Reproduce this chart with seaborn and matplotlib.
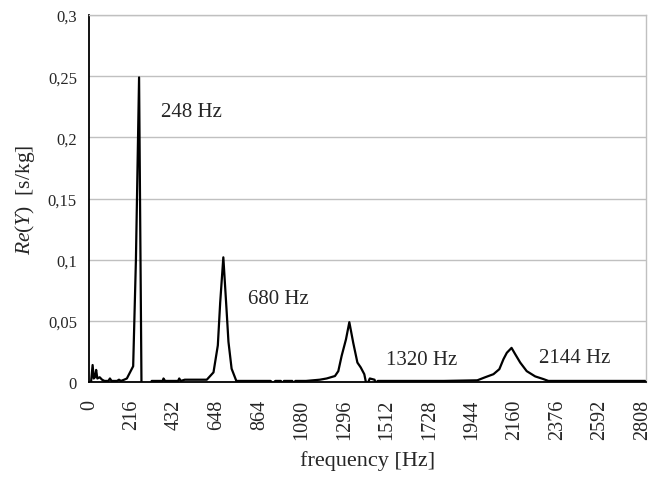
import numpy as np
import pandas as pd
import seaborn as sns
import matplotlib.pyplot as plt

# data (frequency in Hz, Re(Y) in s/kg)
freq = [0, 8, 16, 22, 28, 34, 40, 52, 64, 76, 96, 104, 112, 140, 150, 160, 176, 190, 206, 222, 236, 252,
        270, 290, 310, 316, 372, 376, 384, 450, 456, 464, 484, 596,
        630, 652, 664, 680, 696, 706, 722, 746,
        800, 920, 932, 944, 972, 980, 988, 1030, 1038, 1046, 1100, 1170,
        1205, 1247, 1264, 1281, 1303, 1320, 1340, 1361, 1378, 1396, 1408, 1424, 1448, 1454, 1464,
        1600, 1800, 1970, 2010, 2052, 2082, 2103, 2120, 2144, 2162, 2188, 2221, 2264, 2306, 2331,
        2500, 2700, 2824]
re_y = [0.0, 0.0, 0.014, 0.003, 0.004, 0.010, 0.003, 0.004, 0.002, 0.001, 0.001, 0.003, 0.001, 0.001, 0.002, 0.001, 0.002, 0.003, 0.008, 0.013, 0.100, 0.249,
        -0.12, -0.03, -0.005, 0.001, 0.001, 0.003, 0.001, 0.001, 0.003, 0.001, 0.002, 0.002,
        0.008, 0.030, 0.065, 0.102, 0.060, 0.033, 0.011, 0.001,
        0.001, 0.001, -0.001, 0.001, 0.001, -0.001, 0.001, 0.001, -0.001, 0.001, 0.001, 0.002,
        0.003, 0.005, 0.009, 0.0215, 0.035, 0.049, 0.032, 0.016, 0.012, 0.0065, -0.003, 0.003, 0.002, -0.001, 0.001,
        0.001, 0.001, 0.0015, 0.004, 0.0065, 0.0106, 0.0188, 0.024, 0.028, 0.023, 0.016, 0.009, 0.0047, 0.0025, 0.001,
        0.001, 0.001, 0.001]

peak_labels = ['248 Hz', '680 Hz', '1320 Hz', '2144 Hz']
label_x = [362, 805, 1507, 2284]
label_y = [0.221, 0.0687, 0.0188, 0.0204]

xticks = np.arange(0, 2809, 216)
yticks = [0, 0.05, 0.1, 0.15, 0.2, 0.25, 0.3]
ytick_labels = ['0', '0,05', '0,1', '0,15', '0,2', '0,25', '0,3']

df = pd.DataFrame({'freq': freq, 're_y': re_y})

sns.set_style('white')
plt.rcParams['font.family'] = ['Liberation Serif', 'DejaVu Serif']
plt.rcParams['mathtext.fontset'] = 'custom'
plt.rcParams['mathtext.rm'] = 'Liberation Serif'
plt.rcParams['mathtext.it'] = 'Liberation Serif:italic'

fig = plt.figure(figsize=(6.53, 4.85), dpi=100)
ax = fig.add_axes([0.137, 0.21, 0.852, 0.757])

sns.lineplot(data=df, x='freq', y='re_y', color='black', linewidth=1.6, ax=ax)

ax.set_xlim(0, 2826)
ax.set_ylim(0, 0.3)
ax.set_yticks(yticks)
ax.set_yticklabels(ytick_labels, fontsize=12)
ax.set_xticks(xticks)
ax.set_xticklabels([str(t) for t in xticks], rotation=90, fontsize=14.5)
ax.tick_params(axis='y', length=0, pad=9)
ax.tick_params(axis='x', length=0, pad=12)

ax.grid(axis='y', color='#c0c0c0', linewidth=1)
ax.set_axisbelow(True)
for side in ['top', 'right']:
    ax.spines[side].set_color('#c0c0c0')
    ax.spines[side].set_linewidth(1)
for side in ['left', 'bottom']:
    ax.spines[side].set_color('black')
    ax.spines[side].set_linewidth(1.3)

for txt, lx, ly in zip(peak_labels, label_x, label_y):
    ax.text(lx, ly, txt, fontsize=15, ha='left', va='center')

ax.set_xlabel('frequency [Hz]', fontsize=16, labelpad=8)
ax.set_ylabel(r'$\mathit{Re(Y)}$  [s/kg]', fontsize=15.5, labelpad=8)

fig.savefig('out.png', dpi=100)
